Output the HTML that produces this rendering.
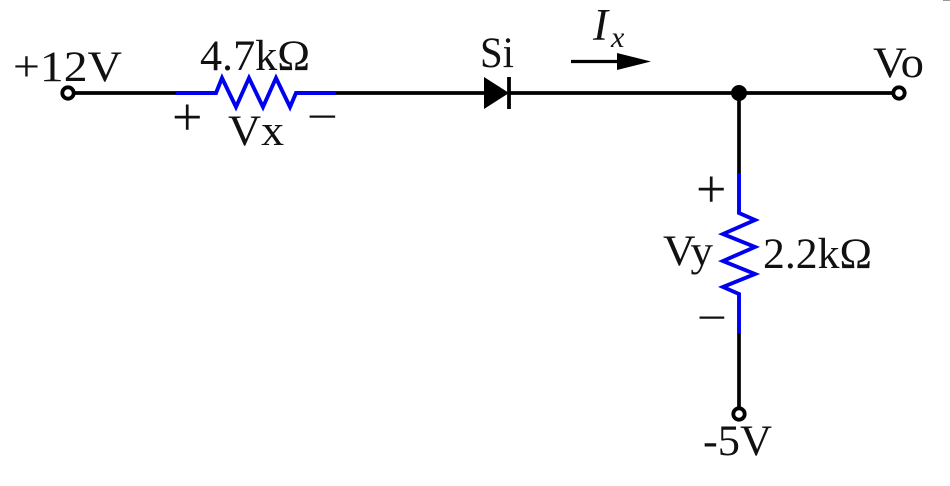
<!DOCTYPE html>
<html>
<head>
<meta charset="utf-8">
<style>
html,body{margin:0;padding:0;background:#fff;width:950px;height:486px;overflow:hidden}
svg{display:block}
text{font-family:"Liberation Serif",serif;font-size:43px;fill:#111}
</style>
</head>
<body>
<svg width="950" height="486" viewBox="0 0 950 486" xmlns="http://www.w3.org/2000/svg">
<rect x="943" y="0" width="7" height="1" fill="#999"/>
<g fill="none" stroke="#000" stroke-width="3.7">
<path d="M74 93H176M336 93H484M509 93H893"/>
<path d="M739 93V173M739 333V408"/>
<path d="M571 61.500H622" stroke-width="3.2"/>
<circle cx="68" cy="93" r="5.700" stroke-width="3.800"/>
<circle cx="899" cy="93" r="5.700" stroke-width="3.800"/>
<circle cx="739" cy="414" r="5.700" stroke-width="3.800"/>
<path d="M509 77V109" stroke-width="3.800"/>
</g>
<path d="M484 77L509 93L484 109Z" fill="#000"/>
<path d="M617 53L651 61.500L617 70Z" fill="#000"/>
<circle cx="739" cy="93" r="8" fill="#000"/>
<g fill="none" stroke="#0000f0" stroke-width="3.9" stroke-linejoin="miter">
<path d="M176 93H216L222 78L236 107L249 78L263 107L276 78L290 107L296 93H336"/>
<path d="M739 173V213L755 220L723 234L755 247L723 261L755 274L723 287L739 294V333"/>
</g>
<text x="13" y="81" textLength="109" lengthAdjust="spacingAndGlyphs">+12V</text>
<text x="200" y="70" textLength="110" lengthAdjust="spacingAndGlyphs">4.7kΩ</text>
<text x="172" y="135" style="font-size:54px">+</text>
<text x="307" y="131" textLength="31" lengthAdjust="spacingAndGlyphs">−</text>
<text x="228" y="145" textLength="56" lengthAdjust="spacingAndGlyphs">Vx</text>
<text x="480" y="67" textLength="34" lengthAdjust="spacingAndGlyphs">Si</text>
<text x="593" y="40" style="font-size:45px" font-style="italic">I</text>
<text x="611" y="47" style="font-size:30px" font-style="italic">x</text>
<text x="873" y="77" textLength="51" lengthAdjust="spacingAndGlyphs">Vo</text>
<text x="663" y="265" textLength="50" lengthAdjust="spacingAndGlyphs">Vy</text>
<text x="763" y="268" textLength="109" lengthAdjust="spacingAndGlyphs">2.2kΩ</text>
<text x="696" y="207" style="font-size:54px">+</text>
<text x="697" y="332" textLength="30" lengthAdjust="spacingAndGlyphs">−</text>
<text x="703" y="455" textLength="69" lengthAdjust="spacingAndGlyphs">-5V</text>
</svg>
</body>
</html>
